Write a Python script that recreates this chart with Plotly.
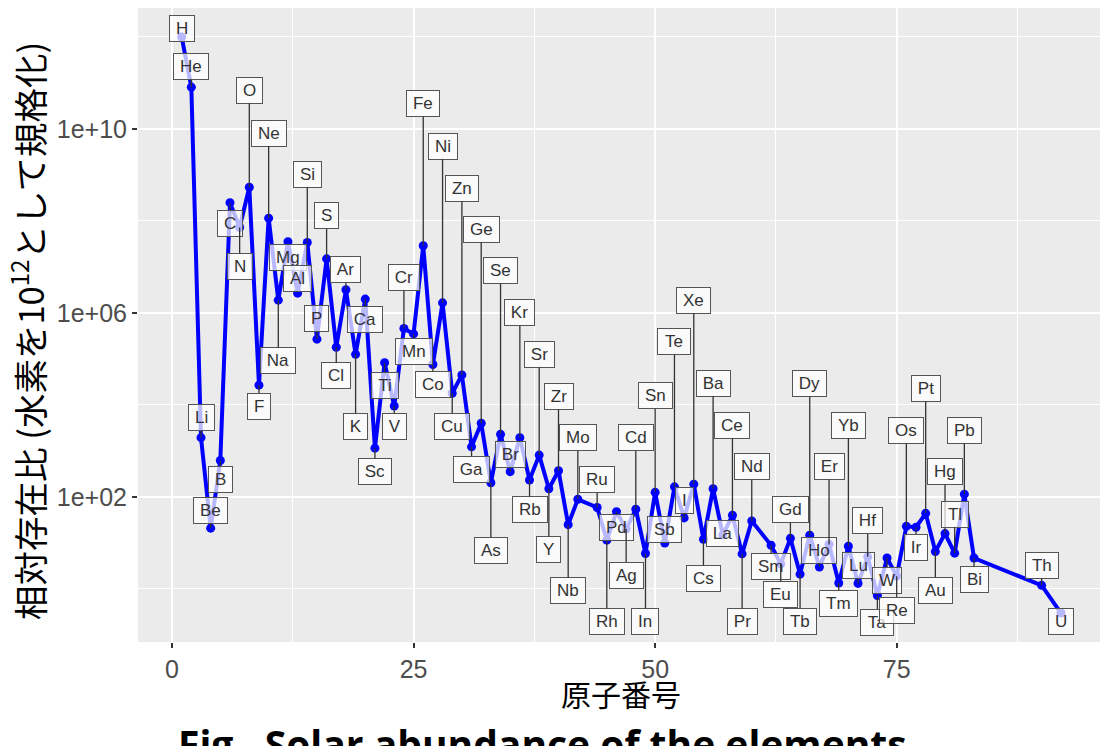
import math
import plotly.graph_objects as go

# ---------------- data ----------------
elements = ['H', 'He', 'Li', 'Be', 'B', 'C', 'N', 'O', 'F', 'Ne', 'Na', 'Mg', 'Al', 'Si', 'P', 'S',
            'Cl', 'Ar', 'K', 'Ca', 'Sc', 'Ti', 'V', 'Cr', 'Mn', 'Fe', 'Co', 'Ni', 'Cu', 'Zn', 'Ga',
            'Ge', 'As', 'Se', 'Br', 'Kr', 'Rb', 'Sr', 'Y', 'Zr', 'Nb', 'Mo', 'Ru', 'Rh', 'Pd', 'Ag',
            'Cd', 'In', 'Sn', 'Sb', 'Te', 'I', 'Xe', 'Cs', 'Ba', 'La', 'Ce', 'Pr', 'Nd', 'Sm', 'Eu',
            'Gd', 'Tb', 'Dy', 'Ho', 'Er', 'Tm', 'Yb', 'Lu', 'Hf', 'Ta', 'W', 'Re', 'Os', 'Ir', 'Pt',
            'Au', 'Hg', 'Tl', 'Pb', 'Bi', 'Th', 'U']

atomic_number = [1, 2, 3, 4, 5, 6, 7, 8, 9, 10, 11, 12, 13, 14, 15, 16, 17, 18, 19, 20, 21, 22,
                 23, 24, 25, 26, 27, 28, 29, 30, 31, 32, 33, 34, 35, 36, 37, 38, 39, 40, 41, 42,
                 44, 45, 46, 47, 48, 49, 50, 51, 52, 53, 54, 55, 56, 57, 58, 59, 60,
                 62, 63, 64, 65, 66, 67, 68, 69, 70, 71, 72, 73, 74, 75, 76, 77, 78, 79, 80, 81,
                 82, 83, 90, 92]

# relative abundance (H = 1e12)
abundance = [1.0e12, 8.1e10, 1.95e3, 21, 620, 2.5e8, 7.2e7, 5.4e8, 2.7e4, 1.15e8, 1.9e6,
             3.55e7, 2.7e6, 3.4e7, 2.7e5, 1.5e7, 1.8e5, 3.2e6, 1.26e5, 2.0e6, 1150, 8.3e4,
             9.5e3, 4.6e5, 3.5e5, 2.9e7, 7.6e4, 1.66e6, 1.8e4, 4.5e4, 1230, 4.0e3, 204, 2.3e3,
             355, 1.95e3, 234, 813, 151, 372, 25, 89,
             59, 11.5, 48, 20, 54, 5.9, 126, 10, 166, 35, 190, 12, 151, 15, 40, 5.8, 30,
             8.9, 3.5, 12.6, 2.1, 14.8, 3.0, 9.3, 1.35, 8.5, 1.32, 5.0, 0.72, 4.7, 1.9, 23,
             22, 44, 6.5, 16, 6.0, 115, 4.7, 1.2, 0.30]

# ---------------- label layout (log10 height of each repelled label) ----------------
label_level = [12.18, 11.36, 3.73, 1.71, 2.39, 7.94, 7.01, 10.84, 3.97, 9.91, 4.96, 7.21, 6.75,
               9.02, 5.88, 8.11, 4.63, 6.94, 3.53, 5.85, 2.55, 4.43, 3.53, 6.77, 5.17, 10.55,
               4.45, 9.63, 3.53, 8.71, 2.60, 7.82, 0.84, 6.92, 2.92, 6.01, 1.73, 5.10, 0.86,
               4.19, -0.04, 3.29,
               2.37, -0.70, 1.33, 0.30, 3.29, -0.70, 4.20, 1.30, 5.38, 1.93, 6.28, 0.23, 4.47,
               1.21, 3.56, -0.70, 2.66,
               0.48, -0.12, 1.73, -0.70, 4.47, 0.84, 2.66, -0.32, 3.56, 0.52, 1.48, -0.72, 0.19,
               -0.46, 3.45, 0.91, 4.36, -0.03, 2.55, 1.62, 3.45, 0.20, 0.52, -0.70]

x_title = '原子番号'
y_title = '相対存在比 (水素を10<sup>12</sup>として規格化)'
caption = 'Fig.\u00a0 Solar abundance of the elements'

# approximate Arial advance widths (em) for sizing label boxes
AW = {'A': .667, 'B': .667, 'C': .722, 'D': .722, 'E': .667, 'F': .611, 'G': .778, 'H': .722,
      'I': .278, 'K': .667, 'L': .556, 'M': .833, 'N': .722, 'O': .778, 'P': .667, 'R': .722,
      'S': .667, 'T': .611, 'U': .722, 'V': .667, 'W': .944, 'X': .667, 'Y': .667, 'Z': .611,
      'a': .556, 'b': .556, 'c': .5, 'd': .556, 'e': .556, 'f': .278, 'g': .556, 'h': .556,
      'i': .222, 'l': .222, 'm': .833, 'n': .556, 'o': .556, 'r': .333, 's': .5, 't': .278,
      'u': .556, 'y': .5, 'k': .5, 'p': .556}

LABEL_SIZE = 17

fig = go.Figure()
fig.add_trace(go.Scatter(
    x=atomic_number, y=abundance, mode='lines+markers',
    line=dict(color='#0000FF', width=4),
    marker=dict(color='#0000FF', size=9),
    hoverinfo='skip', showlegend=False,
))

annotations = []
for el, z, v, ly in zip(elements, atomic_number, abundance, label_level):
    py = math.log10(v)
    show = abs(ly - py) > 0.35
    tw = sum(AW.get(c, 0.6) for c in el) * LABEL_SIZE
    ann = dict(
        xref='x', yref='y', text=el,
        font=dict(family='Liberation Sans, Arial, sans-serif', size=LABEL_SIZE, color='#333333'),
        bgcolor='rgba(255,255,255,0.72)', bordercolor='#555555', borderwidth=1, borderpad=2,
        width=tw + 8, height=21, align='center', valign='middle',
    )
    if show:
        ann.update(x=z, y=py, ax=z, ay=ly, axref='x', ayref='y', showarrow=True,
                   arrowhead=0, arrowwidth=1.3, arrowcolor='#333333', standoff=0)
    else:
        ann.update(x=z, y=ly, showarrow=False)
    annotations.append(ann)

# axis titles and caption
annotations.append(dict(xref='paper', yref='paper', x=0.5025, y=-0.080, text=x_title,
                        showarrow=False, xanchor='center', yanchor='middle',
                        font=dict(family='Noto Sans CJK JP', size=30, color='#000000')))
annotations.append(dict(xref='paper', yref='paper', x=-0.1147, y=0.49, text=y_title,
                        showarrow=False, xanchor='center', yanchor='middle', textangle=-90,
                        font=dict(family='Noto Sans CJK JP', size=34.5, color='#000000')))
annotations.append(dict(xref='paper', yref='paper', x=0.4205, y=-0.1155, text='<b>' + caption + '</b>',
                        showarrow=False, xanchor='center', yanchor='top',
                        font=dict(family='Open Sans', size=39, color='#000000')))

fig.update_layout(
    template='none',
    width=1100, height=746,
    margin=dict(l=138, r=0, t=8, b=104),
    paper_bgcolor='white', plot_bgcolor='#EBEBEB',
    annotations=annotations,
    showlegend=False,
)
fig.update_xaxes(
    range=[-3.52, 96.04], tickmode='array', tickvals=[0, 25, 50, 75],
    ticktext=['0', '25', '50', '75'],
    showgrid=True, gridcolor='white', gridwidth=1.8,
    minor=dict(tickmode='array', tickvals=[12.5, 37.5, 62.5, 87.5], showgrid=True,
               gridcolor='white', gridwidth=0.9),
    ticks='outside', ticklen=5, tickwidth=1.5, tickcolor='#333333',
    tickfont=dict(family='Liberation Sans, Arial', size=25, color='#4D4D4D'),
    zeroline=False, showline=False, automargin=False,
)
fig.update_yaxes(
    type='log', range=[-1.153, 12.63], tickmode='array',
    tickvals=[1e2, 1e6, 1e10], ticktext=['1e+02', '1e+06', '1e+10'],
    showgrid=True, gridcolor='white', gridwidth=1.8,
    minor=dict(tickmode='array', tickvals=[1, 1e4, 1e8, 1e12], showgrid=True,
               gridcolor='white', gridwidth=0.9),
    ticks='outside', ticklen=5, tickwidth=1.5, tickcolor='#333333',
    tickfont=dict(family='Liberation Sans, Arial', size=25, color='#4D4D4D'),
    zeroline=False, showline=False, automargin=False,
)

fig.write_html('out.html')
